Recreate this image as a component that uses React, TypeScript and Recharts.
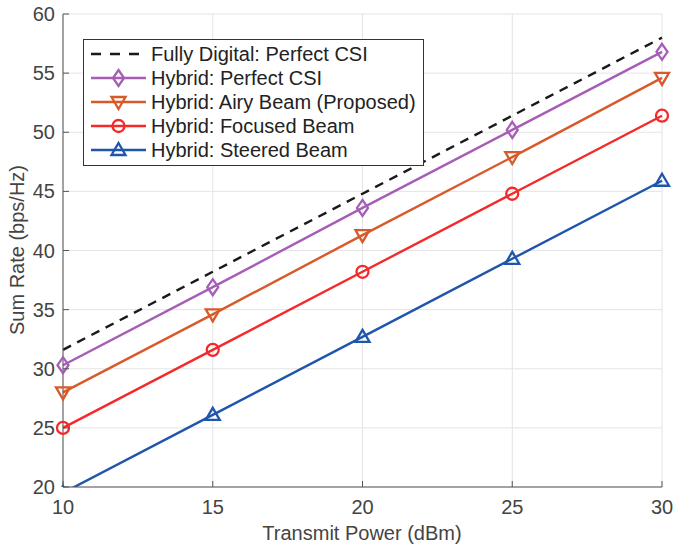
import { LineChart, Line, XAxis, YAxis, CartesianGrid } from "recharts";

const power = [10, 15, 20, 25, 30];
const fullyDigital = [31.6, 38.2, 44.8, 51.4, 58.0];
const hybridPerfect = [30.3, 36.9, 43.6, 50.2, 56.8];
const hybridAiry = [28.0, 34.6, 41.3, 47.9, 54.6];
const hybridFocused = [25.0, 31.6, 38.2, 44.8, 51.4];
const hybridSteered = [19.5, 26.1, 32.7, 39.3, 45.9];

const xTicks = [10, 15, 20, 25, 30];
const yTicks = [20, 25, 30, 35, 40, 45, 50, 55, 60];

const data = power.map((p, i) => ({
  p,
  fd: fullyDigital[i],
  hp: hybridPerfect[i],
  ha: hybridAiry[i],
  hf: hybridFocused[i],
  hs: hybridSteered[i],
}));

type Shape = "none" | "diamond" | "down" | "circle" | "up";

const series: { key: string; name: string; color: string; shape: Shape; dash?: string }[] = [
  { key: "fd", name: "Fully Digital: Perfect CSI", color: "#1a1a1a", shape: "none", dash: "9 7" },
  { key: "hp", name: "Hybrid: Perfect CSI", color: "#a65db6", shape: "diamond" },
  { key: "ha", name: "Hybrid: Airy Beam (Proposed)", color: "#d9592a", shape: "down" },
  { key: "hf", name: "Hybrid: Focused Beam", color: "#f42a2a", shape: "circle" },
  { key: "hs", name: "Hybrid: Steered Beam", color: "#1f56ac", shape: "up" },
];

const FONT = "Liberation Sans, Arial, sans-serif";
const FS = 20;
const LW = 2.4;
const PLOT_LEFT = 63;
const PLOT_BOTTOM = 487;

function marker(shape: Shape, cx: number, cy: number, color: string, key?: string | number) {
  const common = { fill: "none", stroke: color, strokeWidth: 2.3, key };
  if (shape === "diamond")
    return <polygon {...common} points={`${cx},${cy - 8} ${cx + 5.5},${cy} ${cx},${cy + 8} ${cx - 5.5},${cy}`} />;
  if (shape === "down")
    return <polygon {...common} points={`${cx - 7},${cy - 5} ${cx + 7},${cy - 5} ${cx},${cy + 7}`} />;
  if (shape === "up")
    return <polygon {...common} points={`${cx - 7},${cy + 5} ${cx + 7},${cy + 5} ${cx},${cy - 7}`} />;
  if (shape === "circle") return <circle {...common} cx={cx} cy={cy} r={6} />;
  return <g key={key} />;
}

const YTick = (props: any) => {
  const { y, payload } = props;
  return (
    <g>
      <line x1={PLOT_LEFT} x2={PLOT_LEFT + 6} y1={y} y2={y} stroke="#555" strokeWidth={1} />
      <text x={55} y={y + 7} textAnchor="end" fontSize={FS} fill="#444" fontFamily={FONT}>
        {payload.value}
      </text>
    </g>
  );
};

const XTick = (props: any) => {
  const { x, payload } = props;
  return (
    <g>
      <line x1={x} x2={x} y1={PLOT_BOTTOM} y2={PLOT_BOTTOM - 6} stroke="#555" strokeWidth={1} />
      <text x={x} y={PLOT_BOTTOM + 27} textAnchor="middle" fontSize={FS} fill="#444" fontFamily={FONT}>
        {payload.value}
      </text>
    </g>
  );
};

const LegendBox = () => (
  <svg
    width={341}
    height={127}
    style={{ position: "absolute", left: 83, top: 39 }}
  >
    <rect x={0.5} y={0.5} width={340} height={126} fill="#fff" stroke="#333" strokeWidth={1} />
    {series.map((s, i) => {
      const cy = 15 + i * 24;
      return (
        <g key={s.key}>
          <line x1={8} x2={63} y1={cy} y2={cy} stroke={s.color} strokeWidth={LW} strokeDasharray={s.dash ? "10 9" : undefined} />
          {marker(s.shape, 35.5, cy, s.color)}
          <text x={68} y={cy + 7} fontSize={FS} fill="#222" fontFamily={FONT}>
            {s.name}
          </text>
        </g>
      );
    })}
  </svg>
);

export default function App() {
  return (
    <div style={{ position: "absolute", left: 0, top: 0, width: 673, height: 546, background: "#fff" }}>
      <LineChart width={673} height={546} data={data} margin={{ top: 14, right: 11, left: 0, bottom: 0 }}>
        <CartesianGrid stroke="#e4e4e4" strokeWidth={1} />
        <XAxis
          dataKey="p"
          type="number"
          domain={[10, 30]}
          ticks={xTicks}
          height={59}
          axisLine={{ stroke: "#555", strokeWidth: 1 }}
          tickLine={false}
          tick={<XTick />}
          interval={0}
        />
        <YAxis
          type="number"
          domain={[20, 60]}
          ticks={yTicks}
          width={63}
          allowDataOverflow
          axisLine={{ stroke: "#555", strokeWidth: 1 }}
          tickLine={false}
          tick={<YTick />}
          interval={0}
        />
        {series.map((s) => (
          <Line
            key={s.key}
            dataKey={s.key}
            name={s.name}
            stroke={s.color}
            strokeWidth={LW}
            strokeDasharray={s.dash}
            isAnimationActive={false}
            dot={s.shape === "none" ? false : (p: any) => marker(s.shape, p.cx, p.cy, s.color, p.index)}
            activeDot={false}
          />
        ))}
      </LineChart>
      <LegendBox />
      <div
        style={{
          position: "absolute",
          left: 17,
          top: 250,
          transform: "translate(-50%, -50%) rotate(-90deg)",
          whiteSpace: "nowrap",
          fontFamily: FONT,
          fontSize: FS,
          color: "#444",
        }}
      >
        Sum Rate (bps/Hz)
      </div>
      <div
        style={{
          position: "absolute",
          left: 362,
          top: 533,
          transform: "translate(-50%, -50%)",
          whiteSpace: "nowrap",
          fontFamily: FONT,
          fontSize: FS,
          color: "#444",
        }}
      >
        Transmit Power (dBm)
      </div>
    </div>
  );
}
